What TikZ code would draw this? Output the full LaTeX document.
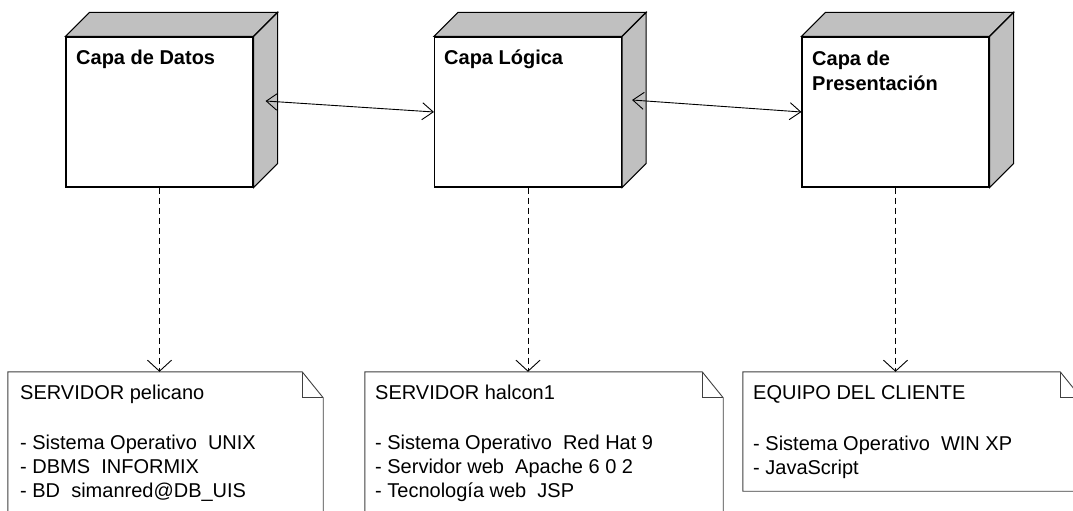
\documentclass[tikz,border=0pt]{standalone}
\usepackage{fontspec}
\setmainfont{Liberation Sans}
\usetikzlibrary{arrows.meta}
\definecolor{sideface}{HTML}{C0C0C0}
\definecolor{noteline}{HTML}{404040}
\tikzset{
  front/.style={draw=black, line width=1.1pt, fill=white, minimum width=187pt, minimum height=150pt, inner sep=0pt},
  shade3d/.style={fill=sideface, draw=black, line width=1.1pt, line join=miter},
  title/.style={font=\bfseries\fontsize{20}{24}\selectfont, anchor=base west, inner sep=0pt},
  notebox/.style={inner sep=0pt},
  noteoutline/.style={draw=noteline, line width=0.9pt, fill=white},
  notetext/.style={font=\fontsize{20}{24}\selectfont, anchor=base west, inner sep=0pt},
  link/.style={line width=0.9pt, {Straight Barb[length=11pt,width=17pt]}-{Straight Barb[length=11pt,width=17pt]}},
  depend/.style={line width=0.9pt, dash pattern=on 6pt off 4pt, -{Straight Barb[length=11pt,width=24pt]}},
}
\begin{document}
\begin{tikzpicture}[x=1pt, y=-1pt]
\useasboundingbox (0,0) rectangle (1073,511);
\clip (0,0) rectangle (1073,511);

% ---- deployment nodes (front face + shaded top and side) ----
\node[front] (d1) at (159.5,112) {};
\node[front] (d2) at (528,112) {};
\node[front] (d3) at (895.5,112) {};
\foreach \d in {d1,d2,d3}{
  \draw[shade3d] (\d.north west) -- ([shift={(24,-24)}]\d.north west)
    -- ([shift={(24,-24)}]\d.north east) -- (\d.north east) -- cycle;
  \draw[shade3d] (\d.north east) -- ([shift={(24,-24)}]\d.north east)
    -- ([shift={(24,-24)}]\d.south east) -- (\d.south east) -- cycle;
}
\node[title] (t1) at (76,65) {Capa de Datos};
\node[title] (t2) at (444,65) {Capa Lógica};
\node[title] (t3a) at (812,66) {Capa de};
\node[title] (t3b) at (812,90) {Presentación};

% ---- notes with folded corner ----
\node[notebox, minimum width=315pt, minimum height=158pt] (n1) at (165.5,451) {};
\node[notebox, minimum width=358pt, minimum height=158pt] (n2) at (544,451) {};
\node[notebox, minimum width=338pt, minimum height=119pt] (n3) at (912,431.5) {};
\foreach \n in {n1,n2,n3}{
  \draw[noteoutline] (\n.north west) -- ([xshift=-21pt]\n.north east)
    -- ([yshift=-26pt]\n.north east) -- (\n.south east) -- (\n.south west) -- cycle;
  \draw[noteoutline, fill=none] ([xshift=-21pt]\n.north east) |- ([yshift=-26pt]\n.north east);
}

\node[notetext] (n1a) at (20,399) {SERVIDOR pelicano};
\node[notetext] (n1b) at (20,449) {- Sistema Operativo\ \ UNIX};
\node[notetext] (n1c) at (20,473) {- DBMS\ \ INFORMIX};
\node[notetext] (n1d) at (20,497) {- BD\ \ simanred@DB\_UIS};

\node[notetext] (n2a) at (375,399) {SERVIDOR halcon1};
\node[notetext] (n2b) at (375,449) {- Sistema Operativo\ \ Red Hat 9};
\node[notetext] (n2c) at (375,473) {- Servidor web\ \ Apache 6 0 2};
\node[notetext] (n2d) at (375,497) {- Tecnología web\ \ JSP};

\node[notetext] (n3a) at (753,399) {EQUIPO DEL CLIENTE};
\node[notetext] (n3b) at (753,450) {- Sistema Operativo\ \ WIN XP};
\node[notetext] (n3c) at (753,474) {- JavaScript};

% ---- connectors ----
\draw[link] ([shift={(12,-11)}]d1.east) -- (d2.west);
\draw[link] ([shift={(10,-12)}]d2.east) -- (d3.west);
\draw[depend] (d1.south) -- (d1.south |- n1.north);
\draw[depend] (d2.south) -- (d2.south |- n2.north);
\draw[depend] (d3.south) -- (d3.south |- n3.north);
\end{tikzpicture}
\end{document}
